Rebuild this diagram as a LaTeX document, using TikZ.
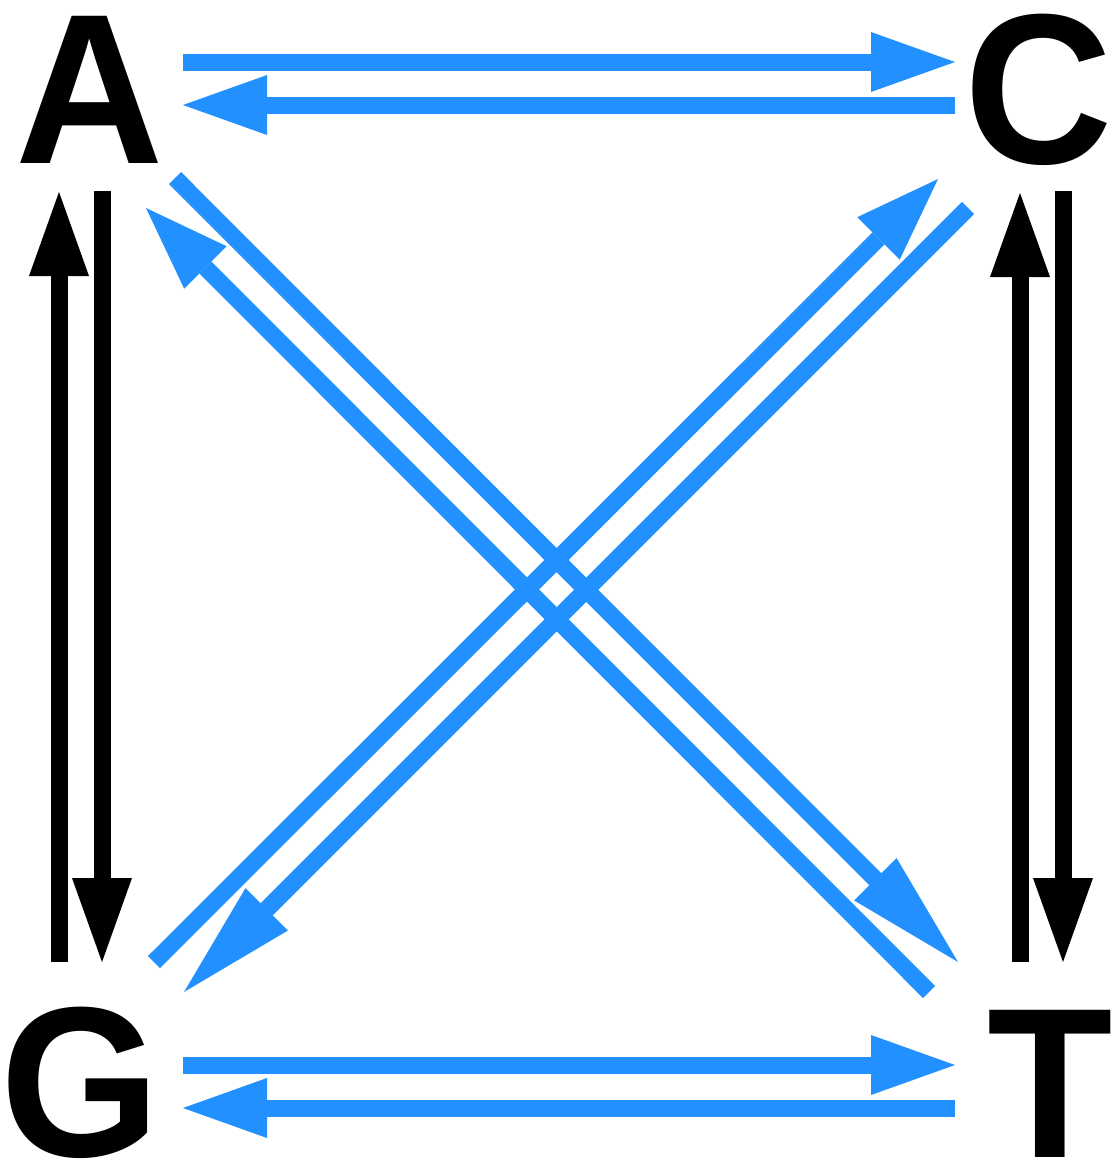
\documentclass[tikz,border=0pt]{standalone}
\usepackage{fontspec}
\setmainfont{Liberation Sans}[FakeStretch=0.96]
\usetikzlibrary{arrows.meta}
\definecolor{flowblue}{RGB}{34,145,255}

\begin{document}
\begin{tikzpicture}[
  x=1pt, y=-1pt,
  letter/.style={font=\fontsize{214}{214}\selectfont\bfseries, inner sep=0pt, anchor=base},
  ar/.style={line width=17pt, -{Triangle[length=84pt, width=60pt, line width=0pt]}},
  blu/.style={ar, flowblue},
  blulong/.style={blu, -{Triangle[length=117pt, width=60pt, line width=0pt]}}
]
  \useasboundingbox (0,0) rectangle (1115,1168);

  % bases
  \node[letter] (a) at (90,163) {A};
  \node[letter] (c) at (1039,163) {C};
  \node[letter] (g) at (80,1156) {G};
  \node[letter] (t) at (1050,1157) {T};

  % arrow ends
  \coordinate (ac1) at (183,62);   \coordinate (ac2) at (955,62);
  \coordinate (ca1) at (955,105);  \coordinate (ca2) at (183,105);
  \coordinate (gt1) at (183,1065); \coordinate (gt2) at (955,1065);
  \coordinate (tg1) at (955,1108); \coordinate (tg2) at (183,1108);
  \coordinate (ag1) at (102,191);  \coordinate (ag2) at (102,962);
  \coordinate (ga1) at (59,962);   \coordinate (ga2) at (59,192);
  \coordinate (ct1) at (1063,191); \coordinate (ct2) at (1063,962);
  \coordinate (tc1) at (1020,962); \coordinate (tc2) at (1020,193);
  \coordinate (at1) at (175,178);  \coordinate (at2) at (958,962);
  \coordinate (ta1) at (929,992);  \coordinate (ta2) at (146,208);
  \coordinate (gc1) at (154,962);  \coordinate (gc2) at (938,179);
  \coordinate (cg1) at (968,208);  \coordinate (cg2) at (184,992);

  \draw[blu] (ac1) -- (ac2);
  \draw[blu] (ca1) -- (ca2);
  \draw[blu] (gt1) -- (gt2);
  \draw[blu] (tg1) -- (tg2);
  \draw[ar] (ag1) -- (ag2);
  \draw[ar] (ga1) -- (ga2);
  \draw[ar] (ct1) -- (ct2);
  \draw[ar] (tc1) -- (tc2);
  \draw[blulong] (at1) -- (at2);
  \draw[blu] (ta1) -- (ta2);
  \draw[blu] (gc1) -- (gc2);
  \draw[blulong] (cg1) -- (cg2);
\end{tikzpicture}
\end{document}
